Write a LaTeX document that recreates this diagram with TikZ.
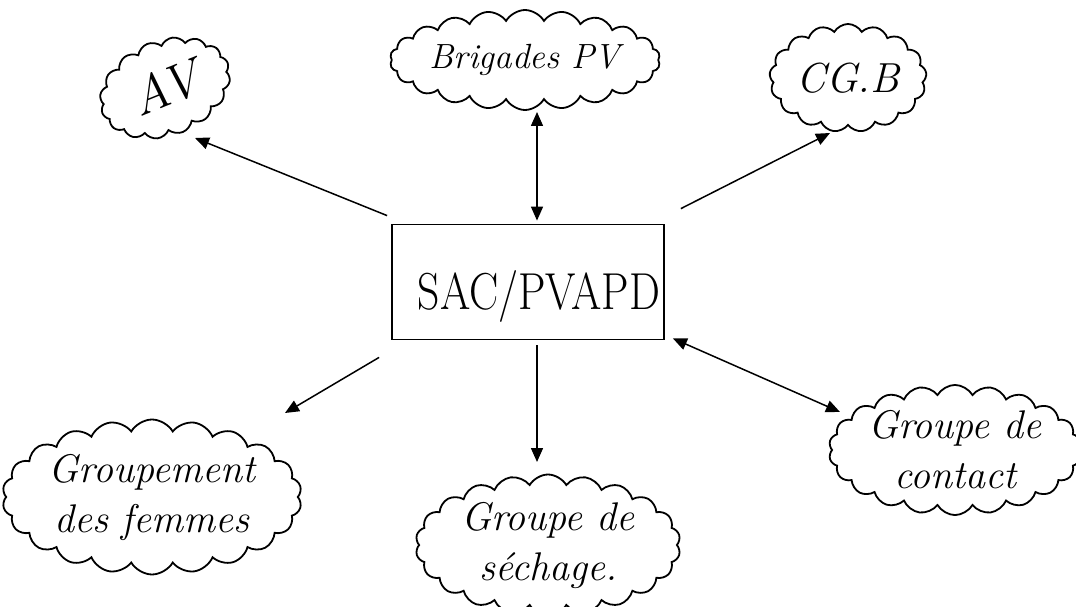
\documentclass[tikz,border=0pt]{standalone}
\usepackage{graphicx}
\usetikzlibrary{shapes.symbols,arrows.meta}
\begin{document}
\begin{tikzpicture}[x=1pt,y=-1pt,
  cloudbox/.style={cloud, draw, line width=1.8pt, cloud puffs=22, cloud puff arc=120,
    cloud ignores aspect, inner sep=0pt, align=center,
    font=\itshape\fontsize{40}{50}\selectfont},
  tip/.tip={Triangle[length=14pt,width=12pt]},
  arr/.style={line width=1.5pt, -tip},
  darr/.style={line width=1.5pt, tip-tip}]
\useasboundingbox (0,0) rectangle (1076,607);
% central box
\node[draw, line width=1.8pt, minimum width=272pt, minimum height=115pt, inner sep=0pt] (box) at (528,282) {};
\node[font=\fontsize{52}{52}\selectfont, inner sep=0pt] (boxtext) at (539,296)
      {\scalebox{0.84}[1]{SAC/PVAPD}};
% clouds
\node[cloudbox, cloud puffs=16, minimum width=135pt, minimum height=95pt, rotate=22,
      font=\itshape\fontsize{52}{52}\selectfont] (av) at (165,88) {A{}V};
\node[cloudbox, minimum width=250pt, minimum height=100pt,
      font=\itshape\fontsize{35}{35}\selectfont] (brig) at (525,60) {Brigades PV};
\node[cloudbox, cloud puffs=17, minimum width=157pt, minimum height=108pt,
      font=\itshape\fontsize{42}{42}\selectfont] (cgb) at (848,78) {CG.B};
\node[cloudbox, minimum width=295pt, minimum height=155pt] (fem) at (152,497)
      {Groupement\\des femmes};
\node[cloudbox, minimum width=265pt, minimum height=140pt] (sech) at (548,545)
      {Groupe de\\séchage.};
\node[cloudbox, minimum width=245pt, minimum height=125pt] (cont) at (955,450)
      {Groupe de\\contact};
% connectors
\draw[arr] ([shift={(-4,-8)}]box.north west) -- ([shift={(30,50)}]av.center);
\draw[darr] ([shift={(9,-3)}]box.north) -- ([shift={(12,52)}]brig.center);
\draw[arr] ([shift={(16,-15)}]box.north east) -- ([shift={(-18,55)}]cgb.center);
\draw[arr] ([shift={(-12,17)}]box.south west) -- ([shift={(133,-84)}]fem.center);
\draw[arr] ([shift={(9,5)}]box.south) -- ([shift={(-11,-83)}]sech.center);
\draw[darr] ([shift={(8,-2)}]box.south east) -- ([shift={(-115,-38)}]cont.center);
\end{tikzpicture}
\end{document}
